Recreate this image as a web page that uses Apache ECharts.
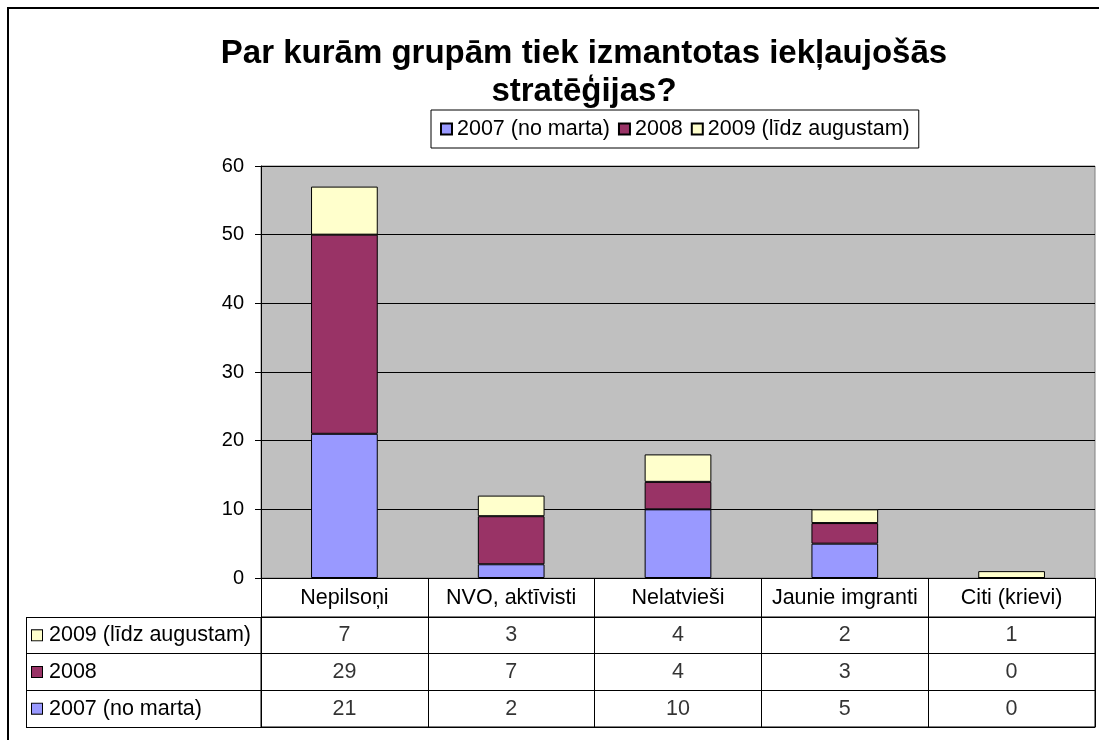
<!DOCTYPE html>
<html>
<head>
<meta charset="utf-8">
<script src="https://cdn.jsdelivr.net/npm/echarts@6/dist/echarts.min.js"></script>
<style>
  html, body { margin: 0; padding: 0; background: #fff; }
  #main { width: 1099px; height: 740px; }
</style>
</head>
<body>
<div id="main"></div>
<script>
// dati
const categories = ['Nepilsoņi', 'NVO, aktīvisti', 'Nelatvieši', 'Jaunie imgranti', 'Citi (krievi)'];
const seriesNames = ['2007 (no marta)', '2008', '2009 (līdz augustam)'];
const values2007 = [21, 2, 10, 5, 0];
const values2008 = [29, 7, 4, 3, 0];
const values2009 = [7, 3, 4, 2, 1];
const yMin = 0, yMax = 60, yStep = 10;

const colors = ['#9999FF', '#993366', '#FFFFCC'];
const font = "'Liberation Sans', Arial, sans-serif";
const txt = 21.5; // tabulas un leģendas teksts
const allValues = [values2007, values2008, values2009];

// tabulas šūnas: [kategorija, rinda, vērtība]
let tableCells = [];
for (let s = 0; s < seriesNames.length; s++) {
  for (let c = 0; c < categories.length; c++) {
    tableCells.push([categories[c], seriesNames[s], allValues[s][c]]);
  }
}

// rindu nosaukumi ar krāsu kvadrātiņu
let rich = { t: { fontSize: txt, fontFamily: font, color: '#000', padding: [0, 0, 0, 7], verticalAlign: 'middle' } };
for (let i = 0; i < colors.length; i++) {
  rich['m' + i] = { width: 10, height: 10, backgroundColor: colors[i], borderColor: '#000', borderWidth: 1, verticalAlign: 'middle' };
}

const chart = echarts.init(document.getElementById('main'), null, { renderer: 'canvas' });

const barSeries = seriesNames.map((name, i) => ({
  name: name,
  type: 'bar',
  stack: 'kopa',
  xAxisIndex: 0,
  yAxisIndex: 0,
  barWidth: '40%',
  itemStyle: { color: colors[i], borderColor: '#000', borderWidth: 1 },
  data: allValues[i]
}));

chart.setOption({
  animation: false,
  textStyle: { fontFamily: font },
  title: {
    text: 'Par kurām grupām tiek izmantotas iekļaujošās\nstratēģijas?',
    left: 584,
    top: 35,
    padding: 0,
    textAlign: 'center',
    textStyle: { fontSize: 33, fontWeight: 'bold', color: '#000', lineHeight: 38, fontFamily: font }
  },
  legend: {
    data: seriesNames,
    left: 431,
    top: 110,
    padding: [8, 9, 8, 9],
    itemGap: 8,
    itemWidth: 11,
    itemHeight: 11,
    icon: 'rect',
    borderColor: '#000',
    borderWidth: 1,
    textStyle: { fontSize: txt, color: '#000', fontFamily: font }
  },
  grid: [
    // diagramma
    { left: 261, right: 4, top: 166, height: 412, show: true, backgroundColor: '#C0C0C0', borderColor: '#808080', borderWidth: 1 },
    // datu tabula
    { left: 261, right: 4, top: 617, bottom: 13, show: true, backgroundColor: 'transparent', borderColor: '#000', borderWidth: 1 }
  ],
  xAxis: [
    {
      type: 'category',
      gridIndex: 0,
      data: categories,
      axisLine: { lineStyle: { color: '#000', width: 1 } },
      axisTick: { show: true, interval: 0, length: 39, lineStyle: { color: '#000' } },
      axisLabel: { interval: 0, margin: 9, fontSize: txt, color: '#000', fontFamily: font },
      splitLine: { show: false }
    },
    {
      type: 'category',
      gridIndex: 1,
      data: categories,
      axisLine: { lineStyle: { color: '#000' } },
      axisTick: { show: false },
      axisLabel: { show: false },
      splitLine: { show: true, interval: 0, lineStyle: { color: '#000', width: 1 } }
    }
  ],
  yAxis: [
    {
      type: 'value',
      gridIndex: 0,
      min: yMin,
      max: yMax,
      interval: yStep,
      axisLine: { show: true, lineStyle: { color: '#000' } },
      axisTick: { show: true, length: 6, lineStyle: { color: '#000' } },
      axisLabel: { margin: 17, fontSize: 20, color: '#000', fontFamily: font },
      splitLine: { show: true, lineStyle: { color: '#000', width: 1 } }
    },
    {
      type: 'category',
      gridIndex: 1,
      data: seriesNames,
      axisLine: { show: true, lineStyle: { color: '#000' } },
      axisTick: { show: true, interval: 0, length: 235, lineStyle: { color: '#000' } },
      axisLabel: {
        interval: 0,
        align: 'left',
        margin: 229,
        formatter: (v, i) => '{m' + i + '|}{t|' + v + '}',
        rich: rich
      },
      splitLine: { show: true, interval: 0, lineStyle: { color: '#000', width: 1 } }
    }
  ],
  series: barSeries.concat([{
    name: 'tabula',
    type: 'scatter',
    xAxisIndex: 1,
    yAxisIndex: 1,
    symbolSize: 0,
    silent: true,
    label: {
      show: true,
      position: 'inside',
      fontSize: txt,
      color: '#000',
      fontFamily: font,
      formatter: p => String(p.value[2])
    },
    data: tableCells
  }]),
  graphic: [
    // ārējais rāmis
    { type: 'rect', silent: true, shape: { x: 8, y: 8, width: 1200, height: 800 }, style: { fill: 'none', stroke: '#000', lineWidth: 2 } },
    // tabulas kreisā mala
    { type: 'line', silent: true, shape: { x1: 26.5, y1: 617, x2: 26.5, y2: 727 }, style: { stroke: '#000', lineWidth: 1 } }
  ]
});
</script>
</body>
</html>
